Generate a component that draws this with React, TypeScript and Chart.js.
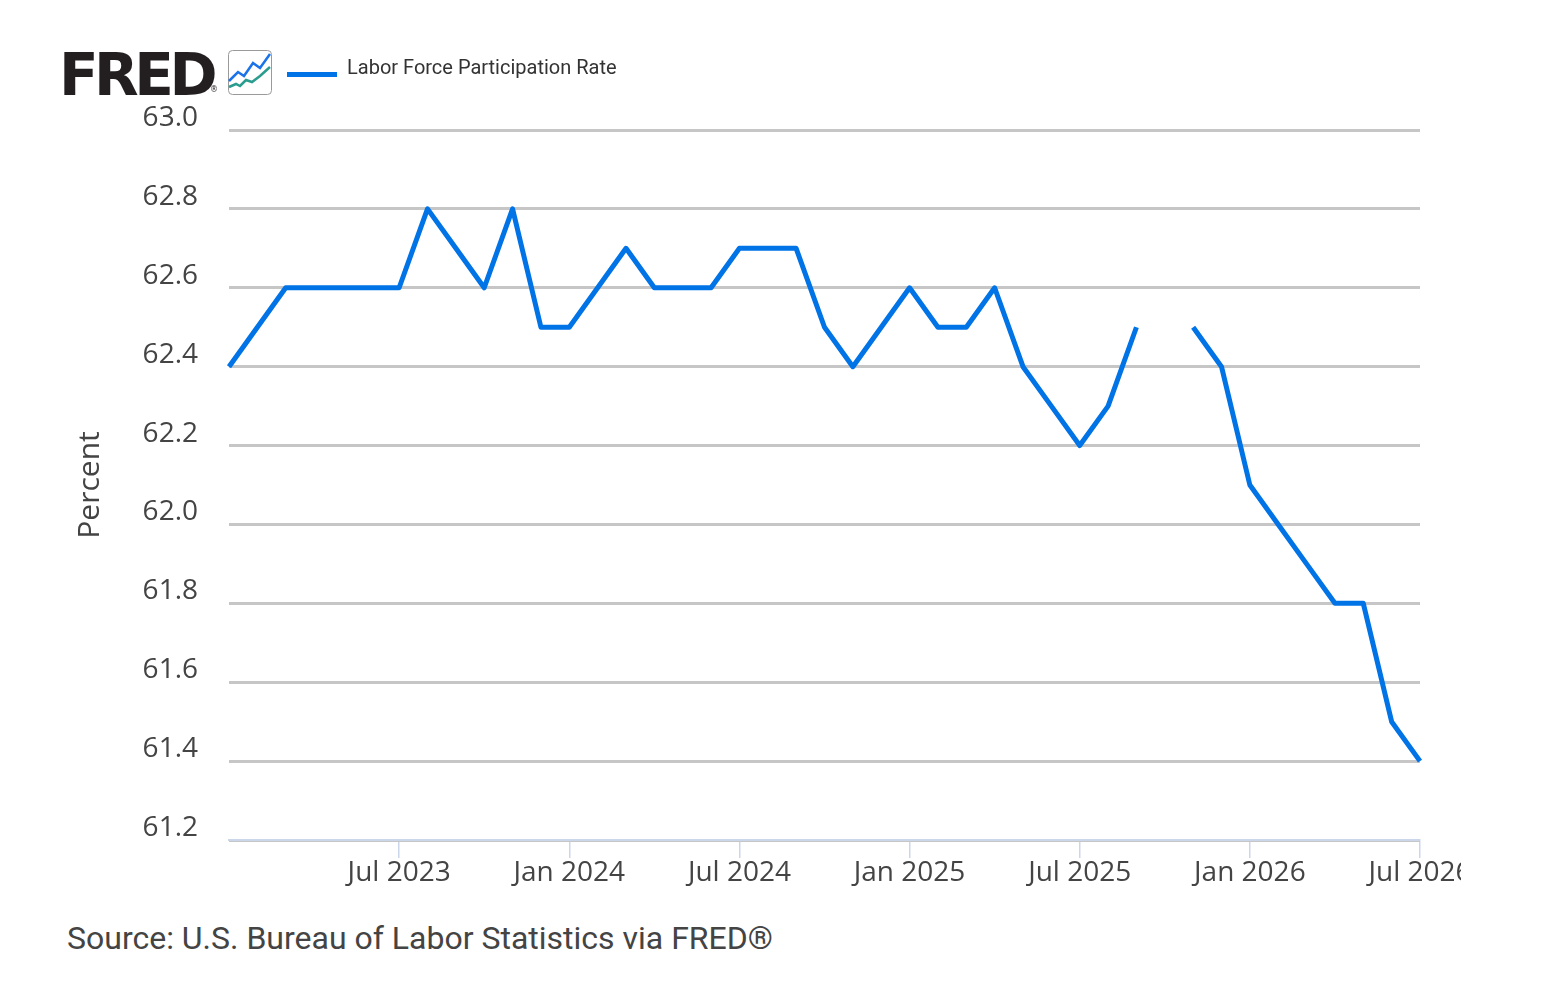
import { useEffect, useRef } from 'react';
import { Chart, registerables } from 'chart.js';

Chart.register(...registerables);

const months = [
  'Jan 2023', 'Feb 2023', 'Mar 2023', 'Apr 2023', 'May 2023', 'Jun 2023',
  'Jul 2023', 'Aug 2023', 'Sep 2023', 'Oct 2023', 'Nov 2023', 'Dec 2023',
  'Jan 2024', 'Feb 2024', 'Mar 2024', 'Apr 2024', 'May 2024', 'Jun 2024',
  'Jul 2024', 'Aug 2024', 'Sep 2024', 'Oct 2024', 'Nov 2024', 'Dec 2024',
  'Jan 2025', 'Feb 2025', 'Mar 2025', 'Apr 2025', 'May 2025', 'Jun 2025',
  'Jul 2025', 'Aug 2025', 'Sep 2025', 'Oct 2025', 'Nov 2025', 'Dec 2025',
  'Jan 2026', 'Feb 2026', 'Mar 2026', 'Apr 2026', 'May 2026', 'Jun 2026',
  'Jul 2026',
];

// Oct 2025 has no observation (gap in the line)
const participationRate: (number | null)[] = [
  62.4, 62.5, 62.6, 62.6, 62.6, 62.6,
  62.6, 62.8, 62.7, 62.6, 62.8, 62.5,
  62.5, 62.6, 62.7, 62.6, 62.6, 62.6,
  62.7, 62.7, 62.7, 62.5, 62.4, 62.5,
  62.6, 62.5, 62.5, 62.6, 62.4, 62.3,
  62.2, 62.3, 62.5, null, 62.5, 62.4,
  62.1, 62.0, 61.9, 61.8, 61.8, 61.5,
  61.4,
];

const xTickLabels = ['Jul 2023', 'Jan 2024', 'Jul 2024', 'Jan 2025', 'Jul 2025', 'Jan 2026', 'Jul 2026'];
const yTicks = [61.2, 61.4, 61.6, 61.8, 62.0, 62.2, 62.4, 62.6, 62.8, 63.0];

const seriesName = 'Labor Force Participation Rate';
const lineColor = '#0073e6';

function FredIcon() {
  return (
    <svg width="44" height="45" viewBox="0 0 44 45" style={{ display: 'block' }}>
      <rect x="0.5" y="0.5" width="43" height="44" rx="4" fill="#fff" stroke="#9a9a9a" />
      <polyline points="1,31 10,22 16,26 25,13 32,18 42,4" fill="none" stroke="#1a73e8" strokeWidth="2.5" />
      <polyline points="1,37 8,34 12,36 18,30 24,32 32,26 42,17" fill="none" stroke="#2a9d8f" strokeWidth="2.5" />
    </svg>
  );
}

export default function App() {
  const chartRef = useRef<HTMLCanvasElement>(null);
  const chartInstance = useRef<Chart | null>(null);

  useEffect(() => {
    if (!chartRef.current) return;
    const ctx = chartRef.current.getContext('2d');
    if (!ctx) return;
    if (chartInstance.current) chartInstance.current.destroy();

    chartInstance.current = new Chart(ctx, {
      type: 'line',
      data: {
        labels: months,
        datasets: [{
          label: seriesName,
          data: participationRate,
          borderColor: lineColor,
          borderWidth: 5,
          pointRadius: 0,
          tension: 0,
          spanGaps: false,
          borderJoinStyle: 'round',
          borderCapStyle: 'butt',
        }],
      },
      options: {
        animation: false,
        responsive: true,
        maintainAspectRatio: false,
        layout: { padding: { top: 130, right: 41, bottom: 0, left: 0 } },
        plugins: {
          legend: { display: false },
          tooltip: { enabled: false },
        },
        scales: {
          x: {
            type: 'category',
            grid: {
              display: true,
              drawOnChartArea: false,
              drawTicks: true,
              tickLength: 18,
              color: '#ccd6eb',
              lineWidth: 1.5,
            },
            border: { display: true, color: '#ccd6eb', width: 2 },
            ticks: {
              autoSkip: false,
              maxRotation: 0,
              padding: -2,
              color: '#444',
              font: { family: '"Open Sans"', size: 28 },
              callback: (value) => months[value as number],
            },
            afterBuildTicks: (scale) => {
              scale.ticks = scale.ticks.filter((t) => xTickLabels.includes(months[t.value]));
            },
            afterFit: (scale) => {
              scale.paddingLeft = 0;
              scale.paddingRight = 0;
              scale.height = 60;
            },
          },
          y: {
            min: yTicks[0],
            max: yTicks[yTicks.length - 1],
            grid: { color: '#c6c6c6', lineWidth: 3, drawTicks: false },
            border: { display: false },
            ticks: {
              padding: 31,
              labelOffset: -12,
              color: '#444',
              font: { family: '"Open Sans"', size: 28 },
              callback: (value) => Number(value).toFixed(1),
            },
            afterBuildTicks: (scale) => {
              scale.ticks = yTicks.map((v) => ({ value: v }));
            },
            afterFit: (scale) => {
              scale.paddingTop = 0;
              scale.paddingBottom = 0;
              scale.width = 229;
            },
            title: {
              display: true,
              text: 'Percent',
              color: '#444',
              font: { family: '"Open Sans"', size: 30 },
              padding: { top: 72, bottom: 0 },
            },
          },
        },
      },
    });

    return () => {
      if (chartInstance.current) {
        chartInstance.current.destroy();
        chartInstance.current = null;
      }
    };
  }, []);

  return (
    <div style={{ position: 'absolute', left: 0, top: 0, width: 1556, height: 988, background: '#fff' }}>
      <div style={{ position: 'absolute', left: 0, top: 0, width: 1461, height: 900 }}>
        <canvas ref={chartRef} />
      </div>
      <div style={{ position: 'absolute', left: 59, top: 46, fontFamily: '"DejaVu Sans"', fontWeight: 700, fontSize: 58, lineHeight: '58px', letterSpacing: -4.5, color: '#231f20' }}>
        FRED
      </div>
      <div style={{ position: 'absolute', left: 210, top: 86, fontFamily: '"DejaVu Sans"', fontSize: 8, lineHeight: '8px', color: '#231f20' }}>®</div>
      <div style={{ position: 'absolute', left: 228, top: 50 }}>
        <FredIcon />
      </div>
      <div style={{ position: 'absolute', left: 287, top: 72, width: 50, height: 5, background: lineColor }} />
      <div style={{ position: 'absolute', left: 347, top: 55, fontFamily: 'Roboto', fontSize: 20, lineHeight: '24px', color: '#333' }}>
        {seriesName}
      </div>
      <div style={{ position: 'absolute', left: 67, top: 920, fontFamily: 'Roboto', fontSize: 32, lineHeight: '36px', color: '#444', whiteSpace: 'nowrap' }}>
        Source: U.S. Bureau of Labor Statistics via FRED®
      </div>
    </div>
  );
}
